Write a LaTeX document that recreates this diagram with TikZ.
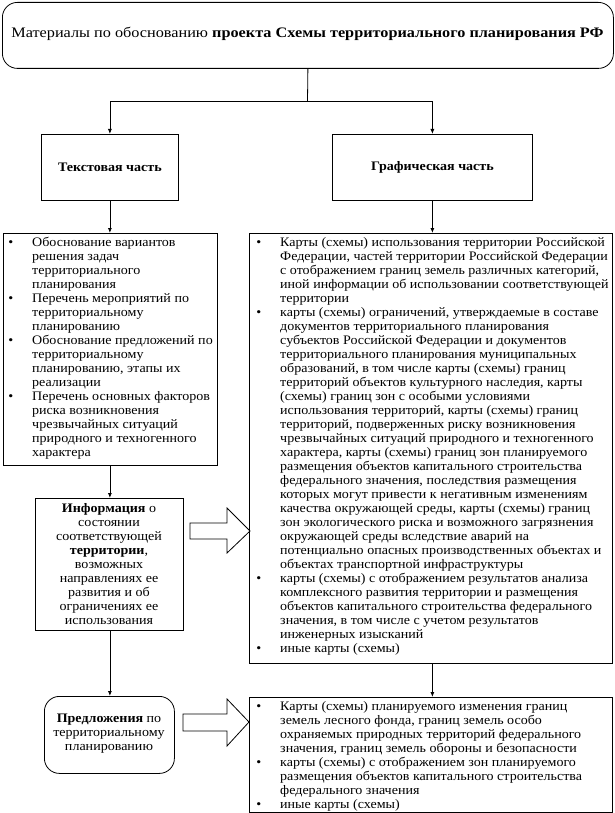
\documentclass[tikz,border=0pt]{standalone}
\usepackage{fontspec}
\setmainfont{Liberation Serif}
\newfontfamily\wfont{Liberation Serif}[FakeStretch=1.08]
\newfontfamily\tfont{Liberation Serif}[FakeStretch=1.12]
\usetikzlibrary{arrows.meta}
\newcommand{\bul}{\llap{\textbullet\hspace{19pt}}}
\begin{document}
\begin{tikzpicture}[x=1pt,y=-1pt,
  frame/.style={draw, line width=0.8pt, inner sep=0pt},
  conn/.style={line width=0.8pt, -{Latex[length=5pt,width=4pt]}},
  plain/.style={line width=0.8pt},
  listtxt/.style={inner sep=0pt, anchor=north west, align=left, font=\wfont\fontsize{13}{14}\selectfont},
  ctxt/.style={inner sep=0pt, align=center, font=\wfont\fontsize{13}{14}\selectfont},
  headtxt/.style={inner sep=0pt, align=center, font=\wfont\bfseries\fontsize{13}{15}\selectfont},
  hollow/.style={draw, line width=0.8pt, fill=white, line join=miter}
]
\useasboundingbox (0,0) rectangle (615,813);
\fill[white] (0,0) rectangle (615,813);

% top box
\node[frame, rounded corners=15pt, minimum width=611pt, minimum height=66pt, anchor=north west] (top) at (2,2) {};
\node[inner sep=0pt, font=\tfont\fontsize{14.5}{17}\selectfont] (toptxt) at (307.5,34) {Материалы по обоснованию \textbf{проекта Схемы территориального планирования РФ}};

% second level
\node[frame, minimum width=137pt, minimum height=66pt, anchor=north west] (tekst) at (41,134) {};
\node[headtxt] (teksttxt) at (tekst.center) {Текстовая часть};
\node[frame, minimum width=200pt, minimum height=66pt, anchor=north west] (graf) at (332,134) {};
\node[headtxt] (graftxt) at (graf.center) {Графическая часть};

\coordinate (split) at (307.5,101);
\draw[plain] (top.south) -- (split);
\draw[conn] (split) -| (tekst.north);
\draw[conn] (split) -| (graf.north);

% left list
\node[frame, minimum width=214pt, minimum height=232pt, anchor=north west] (left) at (3,233) {};
\node[listtxt] (lefttxt) at (32,236.5) {\bul Обоснование вариантов\\
решения задач\\
территориального\\
планирования\\
\bul Перечень мероприятий по\\
территориальному\\
планированию\\
\bul Обоснование предложений по\\
территориальному\\
планированию, этапы их\\
реализации\\
\bul Перечень основных факторов\\
риска возникновения\\
чрезвычайных ситуаций\\
природного и техногенного\\
характера};

% right list
\node[frame, minimum width=363pt, minimum height=430pt, anchor=north west] (right) at (249,233) {};
\node[listtxt] (righttxt) at (280,237.5) {\bul Карты (схемы) использования территории Российской\\
Федерации, частей территории Российской Федерации\\
с отображением границ земель различных категорий,\\
иной информации об использовании соответствующей\\
территории\\
\bul карты (схемы) ограничений, утверждаемые в составе\\
документов территориального планирования\\
субъектов Российской Федерации и документов\\
территориального планирования муниципальных\\
образований, в том числе карты (схемы) границ\\
территорий объектов культурного наследия, карты\\
(схемы) границ зон с особыми условиями\\
использования территорий, карты (схемы) границ\\
территорий, подверженных риску возникновения\\
чрезвычайных ситуаций природного и техногенного\\
характера, карты (схемы) границ зон планируемого\\
размещения объектов капитального строительства\\
федерального значения, последствия размещения\\
которых могут привести к негативным изменениям\\
качества окружающей среды, карты (схемы) границ\\
зон экологического риска и возможного загрязнения\\
окружающей среды вследствие аварий на\\
потенциально опасных производственных объектах и\\
объектах транспортной инфраструктуры\\
\bul карты (схемы) с отображением результатов анализа\\
комплексного развития территории и размещения\\
объектов капитального строительства федерального\\
значения, в том числе с учетом результатов\\
инженерных изысканий\\
\bul иные карты (схемы)};

\draw[conn] (tekst.south) -- (tekst.south |- left.north);
\draw[conn] (graf.south) -- (graf.south |- right.north);

% info box
\node[frame, minimum width=148pt, minimum height=132pt, anchor=north west] (info) at (35,498) {};
\node[ctxt] (infotxt) at (109,564) {\textbf{Информация} о\\
состоянии\\
соответствующей\\
\textbf{территории},\\
возможных\\
направлениях ее\\
развития и об\\
ограничениях ее\\
использования};
\draw[conn] (tekst.south |- left.south) -- (tekst.south |- info.north);

% proposals
\node[frame, rounded corners=15pt, minimum width=130pt, minimum height=77pt, anchor=north west] (pred) at (44,696) {};
\node[ctxt] (predtxt) at (109,734) {\textbf{Предложения} по\\
территориальному\\
планированию};
\draw[conn] (tekst.south |- info.south) -- (tekst.south |- pred.north);

% bottom list
\node[frame, minimum width=363pt, minimum height=115pt, anchor=north west] (bottom) at (249,697) {};
\node[listtxt] (bottomtxt) at (280,701.5) {\bul Карты (схемы) планируемого изменения границ\\
земель лесного фонда, границ земель особо\\
охраняемых природных территорий федерального\\
значения, границ земель обороны и безопасности\\
\bul карты (схемы) с отображением зон планируемого\\
размещения объектов капитального строительства\\
федерального значения\\
\bul иные карты (схемы)};
\draw[conn] (graf.south |- right.south) -- (graf.south |- bottom.north);

% hollow arrows
\draw[hollow] (190,523) -- (227,523) -- (227,508) -- (250,531) -- (227,553) -- (227,539) -- (190,539) -- cycle;
\draw[hollow] (183,714) -- (227,714) -- (227,699) -- (249,722) -- (227,746) -- (227,731) -- (183,731) -- cycle;
\end{tikzpicture}
\end{document}
